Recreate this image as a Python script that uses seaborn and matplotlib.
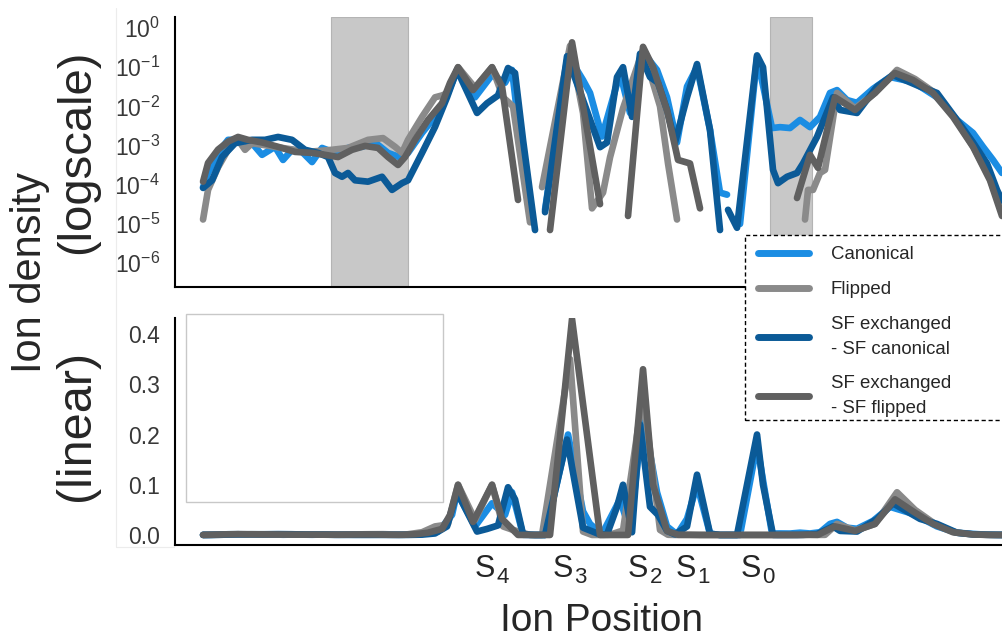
import matplotlib
matplotlib.use("Agg")
import matplotlib.pyplot as plt
import seaborn as sns
from matplotlib.patches import Rectangle
from matplotlib.lines import Line2D
from matplotlib.ticker import NullLocator, FixedLocator, FixedFormatter

sns.set_style("white")
plt.rcParams["font.family"] = ["Liberation Sans", "DejaVu Sans"]
plt.rcParams["mathtext.fontset"] = "custom"
plt.rcParams["mathtext.rm"] = "Liberation Sans"
plt.rcParams["mathtext.it"] = "Liberation Sans:italic"
plt.rcParams["mathtext.bf"] = "Liberation Sans:bold"

# ---------------- data (ion position, ion density) ----------------
canonical_pos = [2.8, 3.3, 4.3, 5.3, 6.3, 7.7, 8.7, 10.0, 10.8, 11.7, 12.7, 13.7, 14.7, 16.0, 17.3,
                 18.7, 20.0, 21.3, 22.7, 23.3, 24.7, 26.3, 27.7, 28.2, 30.0, 31.7, 33.0, 33.7, 34.8, 35.5,
                 36.3, 37.0, 39.3, 40.8, 41.5, 42.7, 44.5, 45.5, 46.8, 48.2, 49.2, 50.2, 51.2, 52.2, 53.5,
                 54.5, 55.2, 55.8, 56.5, 58.2, 59.7, 60.5, 61.5, 62.5, 63.5, 64.5, 65.5, 66.2, 67.2, 68.2,
                 69.8, 71.5, 73.8, 76.2, 78.2, 79.8, 80.8, 81.8, 82.7]
canonical_val = [8.7e-5, 2.0e-4, 6.5e-4, 1.4e-3, 1.4e-3, 1.15e-3, 5.8e-4, 9.3e-4, 4.3e-4, 7.8e-4,
                 6.9e-4, 3.8e-4, 8.7e-4, 6.5e-4, 8.7e-4, 9.3e-4, 1.2e-3, 6.5e-4, 4.8e-4, 6.5e-4,
                 2.1e-3, 6.8e-3, 0.040, 0.085, 0.017, 0.063, 0.040, 0.085, 3.5e-4, 1.5e-5,
                 0.0, 2.3e-5, 0.20, 0.047, 0.022, 1.7e-3, 0.071, 6.8e-3, 0.24, 0.085,
                 0.017, 1.2e-3, 0.032, 0.10, 2.5e-3, 6.3e-5, 5.6e-5, 0.0, 1.0e-5, 0.18,
                 2.8e-3, 2.95e-3, 2.8e-3, 4.5e-3, 2.95e-3, 5.4e-3, 0.022, 0.026, 0.0145, 0.0123,
                 0.028, 0.056, 0.042, 0.017, 4.5e-3, 2.1e-3, 9.3e-4, 4.3e-4, 2.0e-4]

flipped_pos = [2.8, 3.3, 4.3, 5.3, 6.3, 7.0, 7.7, 10.0, 13.3, 15.7, 17.3, 19.3, 20.8, 22.0, 22.7,
               23.3, 24.7, 26.0, 26.7, 27.3, 28.3, 30.0, 31.7, 32.8, 33.8, 35.5, 36.1, 36.7, 39.5, 40.8,
               41.7, 42.8, 43.5, 44.8, 46.8, 48.5, 49.3, 50.2, 51.5, 62.0, 63.0, 63.3, 63.8, 64.5, 65.0,
               66.2, 68.0, 70.0, 72.2, 74.0, 76.0, 78.0, 80.0, 81.5, 82.7]
flipped_val = [1.3e-5, 7.4e-5, 2.8e-4, 7.8e-4, 1.4e-3, 7.8e-4, 1.15e-3, 9.3e-4, 6.9e-4, 7.8e-4,
               8.7e-4, 1.4e-3, 1.55e-3, 9.3e-4, 6.5e-4, 1.4e-3, 5.4e-3, 0.017, 0.019, 0.022,
               0.10, 0.030, 0.10, 0.017, 0.010, 1.1e-5, 0.0, 8.7e-5, 0.35, 6.8e-3,
               2.5e-5, 6.3e-5, 5.0e-4, 8.9e-3, 0.28, 0.010, 3.5e-4, 1.3e-5, 0.0, 0.0,
               1.3e-5, 7.4e-5, 7.4e-5, 2.0e-4, 2.4e-4, 0.022, 8.9e-3, 0.022, 0.085, 0.05,
               0.022, 5.0e-3, 7.9e-4, 1.4e-4, 2.0e-5]

sf_canonical_pos = [2.8, 3.7, 4.7, 6.0, 7.7, 9.0, 10.3, 11.7, 13.0, 14.3, 15.3, 16.0, 16.7, 17.3, 18.0,
                    19.3, 20.7, 21.7, 22.7, 23.3, 24.7, 26.0, 27.2, 28.2, 30.2, 31.2, 32.3, 33.3, 34.0, 34.8,
                    36.0, 36.5, 37.0, 39.2, 40.8, 42.5, 43.2, 44.2, 44.8, 45.7, 46.5, 47.5, 48.3, 49.2, 50.0,
                    51.2, 52.2, 53.5, 54.5, 54.9, 55.3, 56.2, 58.2, 58.8, 59.8, 60.3, 61.2, 62.2, 62.8, 64.2,
                    65.8, 66.5, 68.2, 70.2, 71.8, 74.5, 76.2, 78.2, 79.8, 81.2, 82.2, 82.7]
sf_canonical_val = [8.3e-5, 1.3e-4, 5.1e-4, 1.15e-3, 1.4e-3, 1.4e-3, 1.66e-3, 1.4e-3, 7.8e-4, 6.5e-4,
                    5.1e-4, 2.0e-4, 1.6e-4, 2.0e-4, 1.3e-4, 1.2e-4, 1.6e-4, 7.4e-5, 1.1e-4, 1.3e-4,
                    6.5e-4, 3.0e-3, 0.017, 0.085, 6.8e-3, 0.012, 0.019, 0.095, 0.071, 1.4e-3,
                    7e-6, 0.0, 2.0e-5, 0.19, 0.0145, 9.1e-4, 1.2e-3, 0.056, 0.10, 5.4e-3,
                    0.22, 0.056, 0.040, 8.1e-3, 1.2e-3, 0.017, 0.12, 2.5e-3, 7e-6, 0.0,
                    2.3e-5, 8e-6, 0.20, 0.10, 2.4e-4, 1.1e-4, 1.6e-4, 2.0e-4, 3.5e-4, 1.66e-3,
                    0.017, 8.1e-3, 6.8e-3, 0.032, 0.063, 0.032, 0.022, 4.5e-3, 1.2e-3, 3.5e-4,
                    7.4e-5, 4.0e-5]

sf_flipped_pos = [2.8, 3.3, 4.3, 5.3, 6.3, 7.3, 8.7, 10.3, 12.0, 13.7, 15.0, 16.3, 17.7, 19.0, 20.3,
                  21.3, 22.3, 23.0, 24.0, 25.3, 26.7, 27.5, 28.3, 29.8, 31.7, 32.7, 34.3, 35.9, 37.5, 39.7,
                  42.5, 43.9, 45.3, 46.8, 47.8, 49.2, 50.3, 51.5, 52.5, 53.7, 61.0, 62.2, 63.5, 64.3, 66.0,
                  68.0, 70.0, 72.0, 73.8, 75.8, 77.8, 79.8, 81.5, 82.7]
sf_flipped_val = [1.2e-4, 3.6e-4, 7.9e-4, 1.26e-3, 1.66e-3, 1.4e-3, 1.2e-3, 9.3e-4, 6.9e-4, 6.5e-4,
                  5.8e-4, 5.1e-4, 7.8e-4, 9.8e-4, 8.7e-4, 5.1e-4, 3.2e-4, 5.1e-4, 1.4e-3, 4.5e-3,
                  0.012, 0.040, 0.10, 0.026, 0.10, 0.032, 4.1e-5, 0.0, 7e-6, 0.43,
                  3.2e-5, 0.0, 1.6e-5, 0.33, 0.10, 7.9e-3, 4.3e-4, 3.5e-4, 2.5e-5, 0.0,
                  0.0, 4.6e-5, 5.8e-4, 2.7e-4, 0.017, 8.1e-3, 0.022, 0.071, 0.047, 0.022,
                  5.4e-3, 9.3e-4, 1.3e-4, 1.6e-5]

series_names = ["Canonical", "Flipped", "SF exchanged\n- SF canonical", "SF exchanged\n- SF flipped"]
series_colors = ["#1b8de3", "#8a8a8a", "#0b5a97", "#606060"]

log_ticks = [1e0, 1e-1, 1e-2, 1e-3, 1e-4, 1e-5, 1e-6]
log_ticklabels = [r"$\mathregular{10^{0}}$", r"$\mathregular{10^{-1}}$", r"$\mathregular{10^{-2}}$",
                  r"$\mathregular{10^{-3}}$", r"$\mathregular{10^{-4}}$", r"$\mathregular{10^{-5}}$",
                  r"$\mathregular{10^{-6}}$"]
lin_ticks = [0.0, 0.1, 0.2, 0.3, 0.4]
lin_ticklabels = ["0.0", "0.1", "0.2", "0.3", "0.4"]

site_names = ["4", "3", "2", "1", "0"]
site_pos = [31.8, 39.6, 47.1, 51.9, 58.4]

shaded_regions = [(15.6, 23.3), (59.5, 63.7)]

# ---------------- figure ----------------
fig = plt.figure(figsize=(10.02, 6.39), dpi=100, facecolor="white")
ax_log = fig.add_axes([0.1747, 0.5509, 0.8253, 0.4225])
ax_lin = fig.add_axes([0.1747, 0.1471, 0.8253, 0.3552])

data = [(canonical_pos, canonical_val), (flipped_pos, flipped_val),
        (sf_canonical_pos, sf_canonical_val), (sf_flipped_pos, sf_flipped_val)]

for ax in (ax_log, ax_lin):
    for (pos, val), color in zip(data, series_colors):
        sns.lineplot(x=pos, y=val, ax=ax, color=color, linewidth=4.8, estimator=None,
                     sort=False, legend=False, solid_capstyle="round", solid_joinstyle="round")

for a, b in shaded_regions:
    ax_log.axvspan(a, b, facecolor="#c8c8c8", edgecolor="#b4b4b4", linewidth=0.8, zorder=0.5)

ax_log.set_yscale("log", nonpositive="mask")
ax_log.set_ylim(2.47e-7, 1.905)
ax_log.yaxis.set_major_locator(FixedLocator(log_ticks))
ax_log.yaxis.set_major_formatter(FixedFormatter(log_ticklabels))
ax_log.yaxis.set_minor_locator(NullLocator())

ax_lin.set_ylim(-0.02, 0.432)
ax_lin.set_yticks(lin_ticks)
ax_lin.set_yticklabels(lin_ticklabels)

for ax in (ax_log, ax_lin):
    ax.set_xlim(0, 82.7)
    ax.set_xticks([])
    ax.set_xlabel("")
    ax.set_ylabel("")
    ax.tick_params(axis="y", length=0, pad=11, labelsize=16.5, labelcolor="#383838")
    for s in ("top", "right"):
        ax.spines[s].set_visible(False)
    for s in ("left", "bottom"):
        ax.spines[s].set_color("black")
        ax.spines[s].set_linewidth(1.5)

# selectivity filter site labels
for p, n in zip(site_pos, site_names):
    ax_lin.annotate("S", xy=(p, 0), xycoords=("data", "axes fraction"), xytext=(1.5, -23),
                    textcoords="offset points", ha="right", va="baseline", fontsize=22,
                    annotation_clip=False)
    ax_lin.annotate(n, xy=(p, 0), xycoords=("data", "axes fraction"), xytext=(2.5, -27.5),
                    textcoords="offset points", ha="left", va="baseline", fontsize=16,
                    annotation_clip=False)

fig.text(601 / 1002, 0.0, "Ion Position", ha="center", va="bottom", fontsize=28)
fig.text(30 / 1002, 1 - 273 / 639, "Ion density", rotation=90, ha="center", va="center", fontsize=30)
fig.text(77 / 1002, 1 - 152 / 639, "(logscale)", rotation=90, ha="center", va="center", fontsize=34)
fig.text(77 / 1002, 1 - 425 / 639, "(linear)", rotation=90, ha="center", va="center", fontsize=35)

# faint edges of the tick-label panel
fig.add_artist(Line2D([116 / 1002, 116 / 1002], [1 - 8 / 639, 1 - 547 / 639], transform=fig.transFigure,
                      color="#ececec", linewidth=0.8, zorder=1))
fig.add_artist(Line2D([116 / 1002, 174 / 1002], [1 - 547 / 639, 1 - 547 / 639], transform=fig.transFigure,
                      color="#ececec", linewidth=0.8, zorder=1))

# empty inset frame
fig.add_artist(Rectangle((186 / 1002, 1 - 502 / 639), 257 / 1002, 188 / 639, transform=fig.transFigure,
                         facecolor="none", edgecolor="#c8c8c8", linewidth=1, zorder=3))

# legend frame + legend
fig.add_artist(Rectangle((745 / 1002, 1 - 420 / 639), 0.27, 185 / 639, transform=fig.transFigure,
                         facecolor="white", edgecolor="black", linestyle=(0, (3, 2)), linewidth=1, zorder=5))
handles = [Line2D([0], [0], color=c, linewidth=5, solid_capstyle="round") for c in series_colors]
leg = fig.legend(handles, series_names, loc="upper left", bbox_to_anchor=(749 / 1002, 1 - 237 / 639),
                 frameon=False, fontsize=13.4, handlelength=2.7, handletextpad=1.2, labelspacing=0.95,
                 borderpad=0.5, borderaxespad=0)
for t in leg.get_texts():
    t.set_linespacing(1.6)
leg.set_zorder(10)

fig.savefig("out.png", dpi=100, facecolor="white")
